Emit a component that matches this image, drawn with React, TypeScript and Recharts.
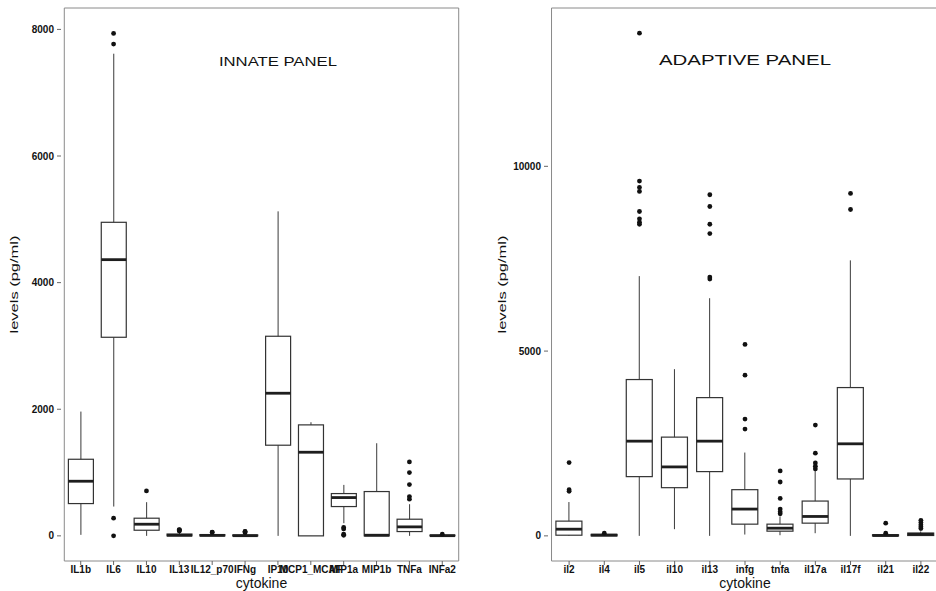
import React from 'react';
import { ComposedChart, Bar, Scatter, XAxis, YAxis, ReferenceArea, ReferenceDot, Label } from 'recharts';

// Innate panel (pg/ml)
const innateCats = ['IL1b', 'IL6', 'IL10', 'IL13', 'IL12_p70', 'IFNg', 'IP10', 'MCP1_MCAF', 'MIP1a', 'MIP1b', 'TNFa', 'INFa2'];
const innateLow = [16, 463, 0, 0, 0, 0, 0, 0, 200, 0, 0, 0];
const innateQ1 = [510, 3137, 89, 0, 0, 0, 1432, 0, 463, 0, 68, 0];
const innateMedian = [863, 4363, 184, 10, 8, 3, 2253, 1321, 605, 10, 142, 3];
const innateQ3 = [1210, 4953, 279, 28, 20, 14, 3153, 1753, 668, 700, 263, 12];
const innateHigh = [1963, 7616, 532, 60, 40, 30, 5126, 1795, 805, 1463, 500, 20];
const innateOutliers = [
  [],
  [7937, 7768, 279, 0],
  [710],
  [75, 85, 95, 100],
  [55, 60],
  [50, 65, 70],
  [],
  [],
  [132, 110, 26, 8],
  [],
  [1168, 1000, 810, 621, 580],
  [26],
];
const innateTicks = [0, 2000, 4000, 6000, 8000];
const innateDomain = [-397, 8338];

// Adaptive panel (pg/ml)
const adaptiveCats = ['il2', 'il4', 'il5', 'il10', 'il13', 'infg', 'tnfa', 'il17a', 'il17f', 'il21', 'il22'];
const adaptiveLow = [0, 0, 0, 181, 0, 36, 18, 72, 0, 0, 0];
const adaptiveQ1 = [18, 0, 1603, 1304, 1739, 317, 127, 344, 1540, 0, 10];
const adaptiveMedian = [181, 20, 2563, 1866, 2563, 725, 208, 525, 2491, 10, 45];
const adaptiveQ3 = [399, 40, 4230, 2672, 3741, 1250, 317, 942, 4013, 30, 75];
const adaptiveHigh = [915, 60, 7029, 4511, 6431, 2255, 525, 1793, 7455, 50, 120];
const adaptiveOutliers = [
  [1984, 1250, 1205],
  [72],
  [13604, 9601, 9429, 9321, 8777, 8578, 8487, 8433],
  [],
  [9230, 8913, 8433, 8179, 7002, 6950],
  [5181, 4348, 3161, 2890],
  [1757, 1458, 1014, 725, 652, 598],
  [2998, 2237, 1975, 1884, 1812],
  [9266, 8832],
  [344, 72],
  [420, 360, 300, 250, 200],
];
const adaptiveTicks = [0, 5000, 10000];
const adaptiveDomain = [-680, 14284];

const MAX_OUT = 8;

const buildRows = (
  cats: string[], low: number[], q1: number[], med: number[], q3: number[], high: number[], outs: number[][],
) =>
  cats.map((name, i) => {
    const row: any = { name, whisker: [low[i], high[i]], box: [q1[i], q3[i]], median: [med[i], med[i]] };
    outs[i].forEach((v, j) => { row[`o${j}`] = v; });
    return row;
  });

const innateRows = buildRows(innateCats, innateLow, innateQ1, innateMedian, innateQ3, innateHigh, innateOutliers);
const adaptiveRows = buildRows(adaptiveCats, adaptiveLow, adaptiveQ1, adaptiveMedian, adaptiveQ3, adaptiveHigh, adaptiveOutliers);

const ok = (...v: any[]) => v.every((n) => typeof n === 'number' && Number.isFinite(n));

const WhiskerShape = (props: any) => {
  const { x, y, width, height } = props;
  if (!ok(x, y, width, height)) return <g />;
  const cx = x + width / 2;
  return <line x1={cx} x2={cx} y1={y} y2={y + height} stroke="#3a3a3a" strokeWidth={1} />;
};

const BoxShape = (props: any) => {
  const { x, y, width, height } = props;
  if (!ok(x, y, width, height)) return <g />;
  return (
    <rect x={x} y={Math.min(y, y + height)} width={width} height={Math.abs(height)}
      fill="#ffffff" stroke="#333333" strokeWidth={1.2} />
  );
};

const MedianShape = (props: any) => {
  const { x, y, width } = props;
  if (!ok(x, y, width)) return <g />;
  return <line x1={x} x2={x + width} y1={y} y2={y} stroke="#1e1e1e" strokeWidth={2.8} />;
};

const OutlierShape = (props: any) => {
  const { cx, cy } = props;
  if (!ok(cx, cy)) return <g />;
  return <circle cx={cx} cy={cy} r={2.4} fill="#111111" />;
};

const TitleLabel = (props: any) => {
  const { viewBox, text, size, len } = props;
  const cx = viewBox.x + (viewBox.width || 0) / 2;
  const cy = viewBox.y + (viewBox.height || 0) / 2;
  return (
    <text x={cx} y={cy} textAnchor="middle" dominantBaseline="central" fontSize={size}
      fill="#111" textLength={len} lengthAdjust="spacingAndGlyphs">
      {text}
    </text>
  );
};

const YTitle = (props: any) => {
  const { viewBox, dx } = props;
  const cx = viewBox.x + dx;
  const cy = viewBox.y + viewBox.height / 2;
  return (
    <text x={cx} y={cy} transform={`rotate(-90 ${cx} ${cy})`} textAnchor="middle" dominantBaseline="central"
      fontSize={11.5} fill="#111" textLength={98} lengthAdjust="spacingAndGlyphs">
      levels (pg/ml)
    </text>
  );
};

interface PanelProps {
  rows: any[];
  cats: string[];
  ticks: number[];
  domain: number[];
  left: number;
  yAxisWidth: number;
  title: string;
  titleAt: string;
  titleY: number;
  titleSize: number;
  titleLen: number;
  yTitleDx: number;
}

const CHART_W = 470;
const CHART_H = 591;

const Panel = (p: PanelProps) => {
  const plotW = CHART_W - p.yAxisWidth - 8;
  // ggplot-style discrete expansion (0.6 of a category on each side)
  const pad = (0.1 * plotW) / (p.cats.length + 0.2);
  const xPad = { left: pad, right: pad };
  const tickStyle = { fontSize: 10, fill: '#111', fontWeight: 'bold' };
  return (
    <div style={{ position: 'absolute', left: p.left, top: 0 }}>
      <ComposedChart width={CHART_W} height={CHART_H} data={p.rows} barCategoryGap="12.5%"
        margin={{ top: 8, right: 8, bottom: 0, left: 0 }}>
        <XAxis dataKey="name" interval={0} padding={xPad} height={30} axisLine={false}
          tickSize={4} tickMargin={1} tickLine={{ stroke: '#666' }} tick={tickStyle}>
          <Label value="cytokine" position="insideBottom" offset={3} style={{ fontSize: 14, fill: '#111' }} />
        </XAxis>
        <XAxis xAxisId="w" dataKey="name" hide padding={xPad} />
        <XAxis xAxisId="m" dataKey="name" hide padding={xPad} />
        <YAxis type="number" domain={p.domain} ticks={p.ticks} allowDataOverflow width={p.yAxisWidth}
          axisLine={false} tickSize={4} tickMargin={3} tickLine={{ stroke: '#666' }} tick={tickStyle}
          label={<YTitle dx={p.yTitleDx} />} />
        <ReferenceArea y1={p.domain[0]} y2={p.domain[1]} fill="none" stroke="#8a8a8a" strokeWidth={1} ifOverflow="visible" />
        <Bar xAxisId="w" dataKey="whisker" shape={<WhiskerShape />} isAnimationActive={false} />
        <Bar dataKey="box" shape={<BoxShape />} isAnimationActive={false} />
        <Bar xAxisId="m" dataKey="median" shape={<MedianShape />} isAnimationActive={false} />
        {Array.from({ length: MAX_OUT }, (_, j) => (
          <Scatter key={j} dataKey={`o${j}`} shape={<OutlierShape />} isAnimationActive={false} />
        ))}
        <ReferenceDot x={p.titleAt} y={p.titleY} r={0} fill="none" stroke="none" ifOverflow="visible"
          label={<TitleLabel text={p.title} size={p.titleSize} len={p.titleLen} />} />
      </ComposedChart>
    </div>
  );
};

export default function App() {
  return (
    <div style={{
      position: 'fixed', left: 0, top: 0, width: 936, height: 591, overflow: 'hidden',
      background: '#fff', fontFamily: '"Liberation Sans", Arial, Helvetica, sans-serif',
    }}>
      <Panel rows={innateRows} cats={innateCats} ticks={innateTicks} domain={innateDomain}
        left={0} yAxisWidth={61} title="INNATE PANEL" titleAt="IP10" titleY={7500}
        titleSize={13} titleLen={118} yTitleDx={14} />
      <Panel rows={adaptiveRows} cats={adaptiveCats} ticks={adaptiveTicks} domain={adaptiveDomain}
        left={480} yAxisWidth={68} title="ADAPTIVE PANEL" titleAt="infg" titleY={12900}
        titleSize={15.5} titleLen={172} yTitleDx={22} />
    </div>
  );
}
